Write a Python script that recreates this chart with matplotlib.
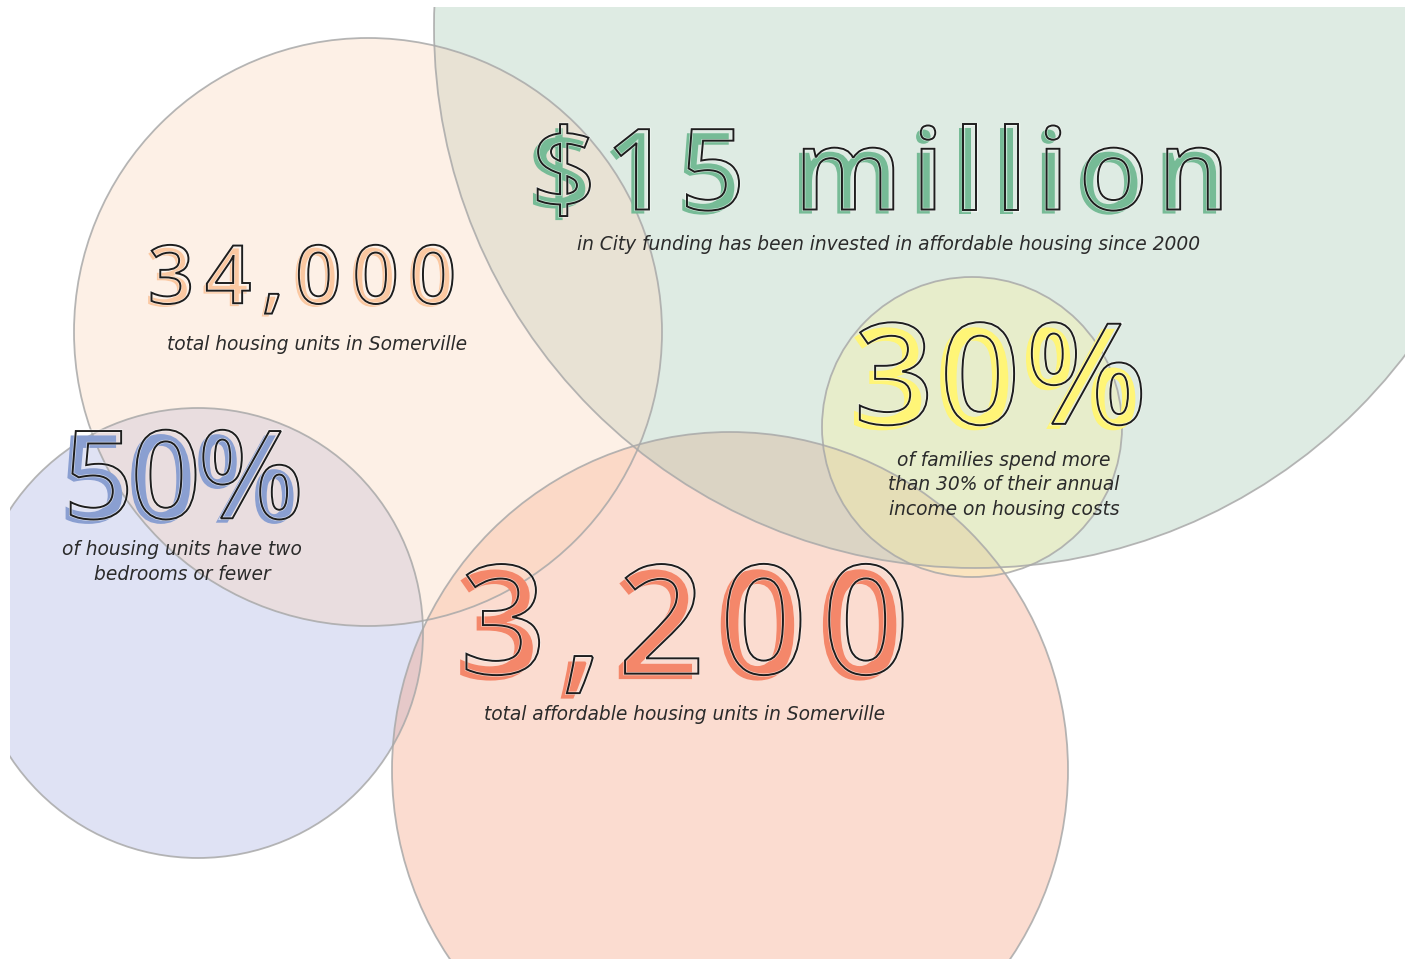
import numpy as np
import matplotlib
matplotlib.use('Agg')
import matplotlib.pyplot as plt
from matplotlib.patches import Circle, Rectangle
import matplotlib.patheffects as pe

W, H = 1405, 959

# circles (pixel space of the picture), in drawing order:
# bedrooms, affordable, funding, total, cost
circle_x = [198, 730, 975, 368, 972]
circle_y = [633, 770, 27, 332, 427]
circle_r = [225, 338, 541, 294, 150]
circle_fill = ['#a4ace0', '#f49b79', '#a1c6b0', '#fcd4b8', '#faf3a1']

big_labels = ['$15 million', '34,000', '50%', '3,200', '30%']
big_colors = ['#76bb96', '#fbc8a1', '#8a9fd1', '#f4876a', '#fff577']
sub_labels = ['in City funding has been invested in affordable housing since 2000',
              'total housing units in Somerville',
              'of housing units have two\nbedrooms or fewer',
              'total affordable housing units in Somerville',
              'of families spend more\nthan 30% of their annual\nincome on housing costs']

# layout: left/right of the big number, baseline, size, subtitle centre
big_left = [530, 147, 62, 458, 852]
big_right = [1228, 455, 302, 907, 1145]
big_base = [212, 305, 521, 677, 427]
big_size = [81, 58, 88, 109, 101]
sub_x = [889, 317, 182, 685, 1004]
sub_y = [245, 344, 562, 715, 485]

fig = plt.figure(figsize=(W / 100, H / 100), dpi=100)
ax = fig.add_axes([0, 0, 1, 1])
ax.set_xlim(0, W)
ax.set_ylim(H, 0)
ax.axis('off')

clip = Rectangle((10, 7), W - 10, H - 7, transform=ax.transData, visible=False)
ax.add_patch(clip)
for cx, cy, r, fc in zip(circle_x, circle_y, circle_r, circle_fill):
    c = Circle((cx, cy), r, facecolor=fc, alpha=0.35, edgecolor='none')
    ax.add_patch(c)
    c.set_clip_path(clip)
for cx, cy, r in zip(circle_x, circle_y, circle_r):
    e = Circle((cx, cy), r, facecolor='none', edgecolor='#a9a9a9', lw=1.3, alpha=0.85)
    ax.add_patch(e)
    e.set_clip_path(clip)

renderer = fig.canvas.get_renderer()


def draw_big(s, x0, x1, base, size, color):
    px = size * 100 / 72.0
    off = size / 36.0
    effects = [pe.PathPatchEffect(offset=(-off, -off * 0.5), facecolor=color, edgecolor='none'),
               pe.PathPatchEffect(offset=(off * 0.5, off * 0.8), facecolor='none', edgecolor='white', lw=2.4, alpha=0.6),
               pe.PathPatchEffect(offset=(off * 0.5, off * 0.8), facecolor='none', edgecolor='#1e1e1e', lw=1.4)]
    texts, widths = [], []
    for ch in s:
        t = ax.text(0, base, ch, fontsize=size, family='Open Sans', fontweight='semibold',
                    color='none', ha='left', va='baseline', path_effects=effects, zorder=5)
        if ch == ' ':
            w = 0.26 * px
        else:
            w = t.get_window_extent(renderer).width
        texts.append(t)
        widths.append(w)
    track = (x1 - x0 - sum(widths)) / (len(s) - 1)
    x = x0
    for t, w in zip(texts, widths):
        t.set_x(x)
        x += w + track


for i, s in enumerate(big_labels):
    draw_big(s, big_left[i], big_right[i], big_base[i], big_size[i], big_colors[i])
    ax.text(sub_x[i], sub_y[i], sub_labels[i], fontsize=13.4, style='italic',
            family='DejaVu Sans', color='#2b2b2b', ha='center', va='center',
            linespacing=1.35, zorder=6)

fig.savefig('out.png', dpi=100, facecolor='white')
